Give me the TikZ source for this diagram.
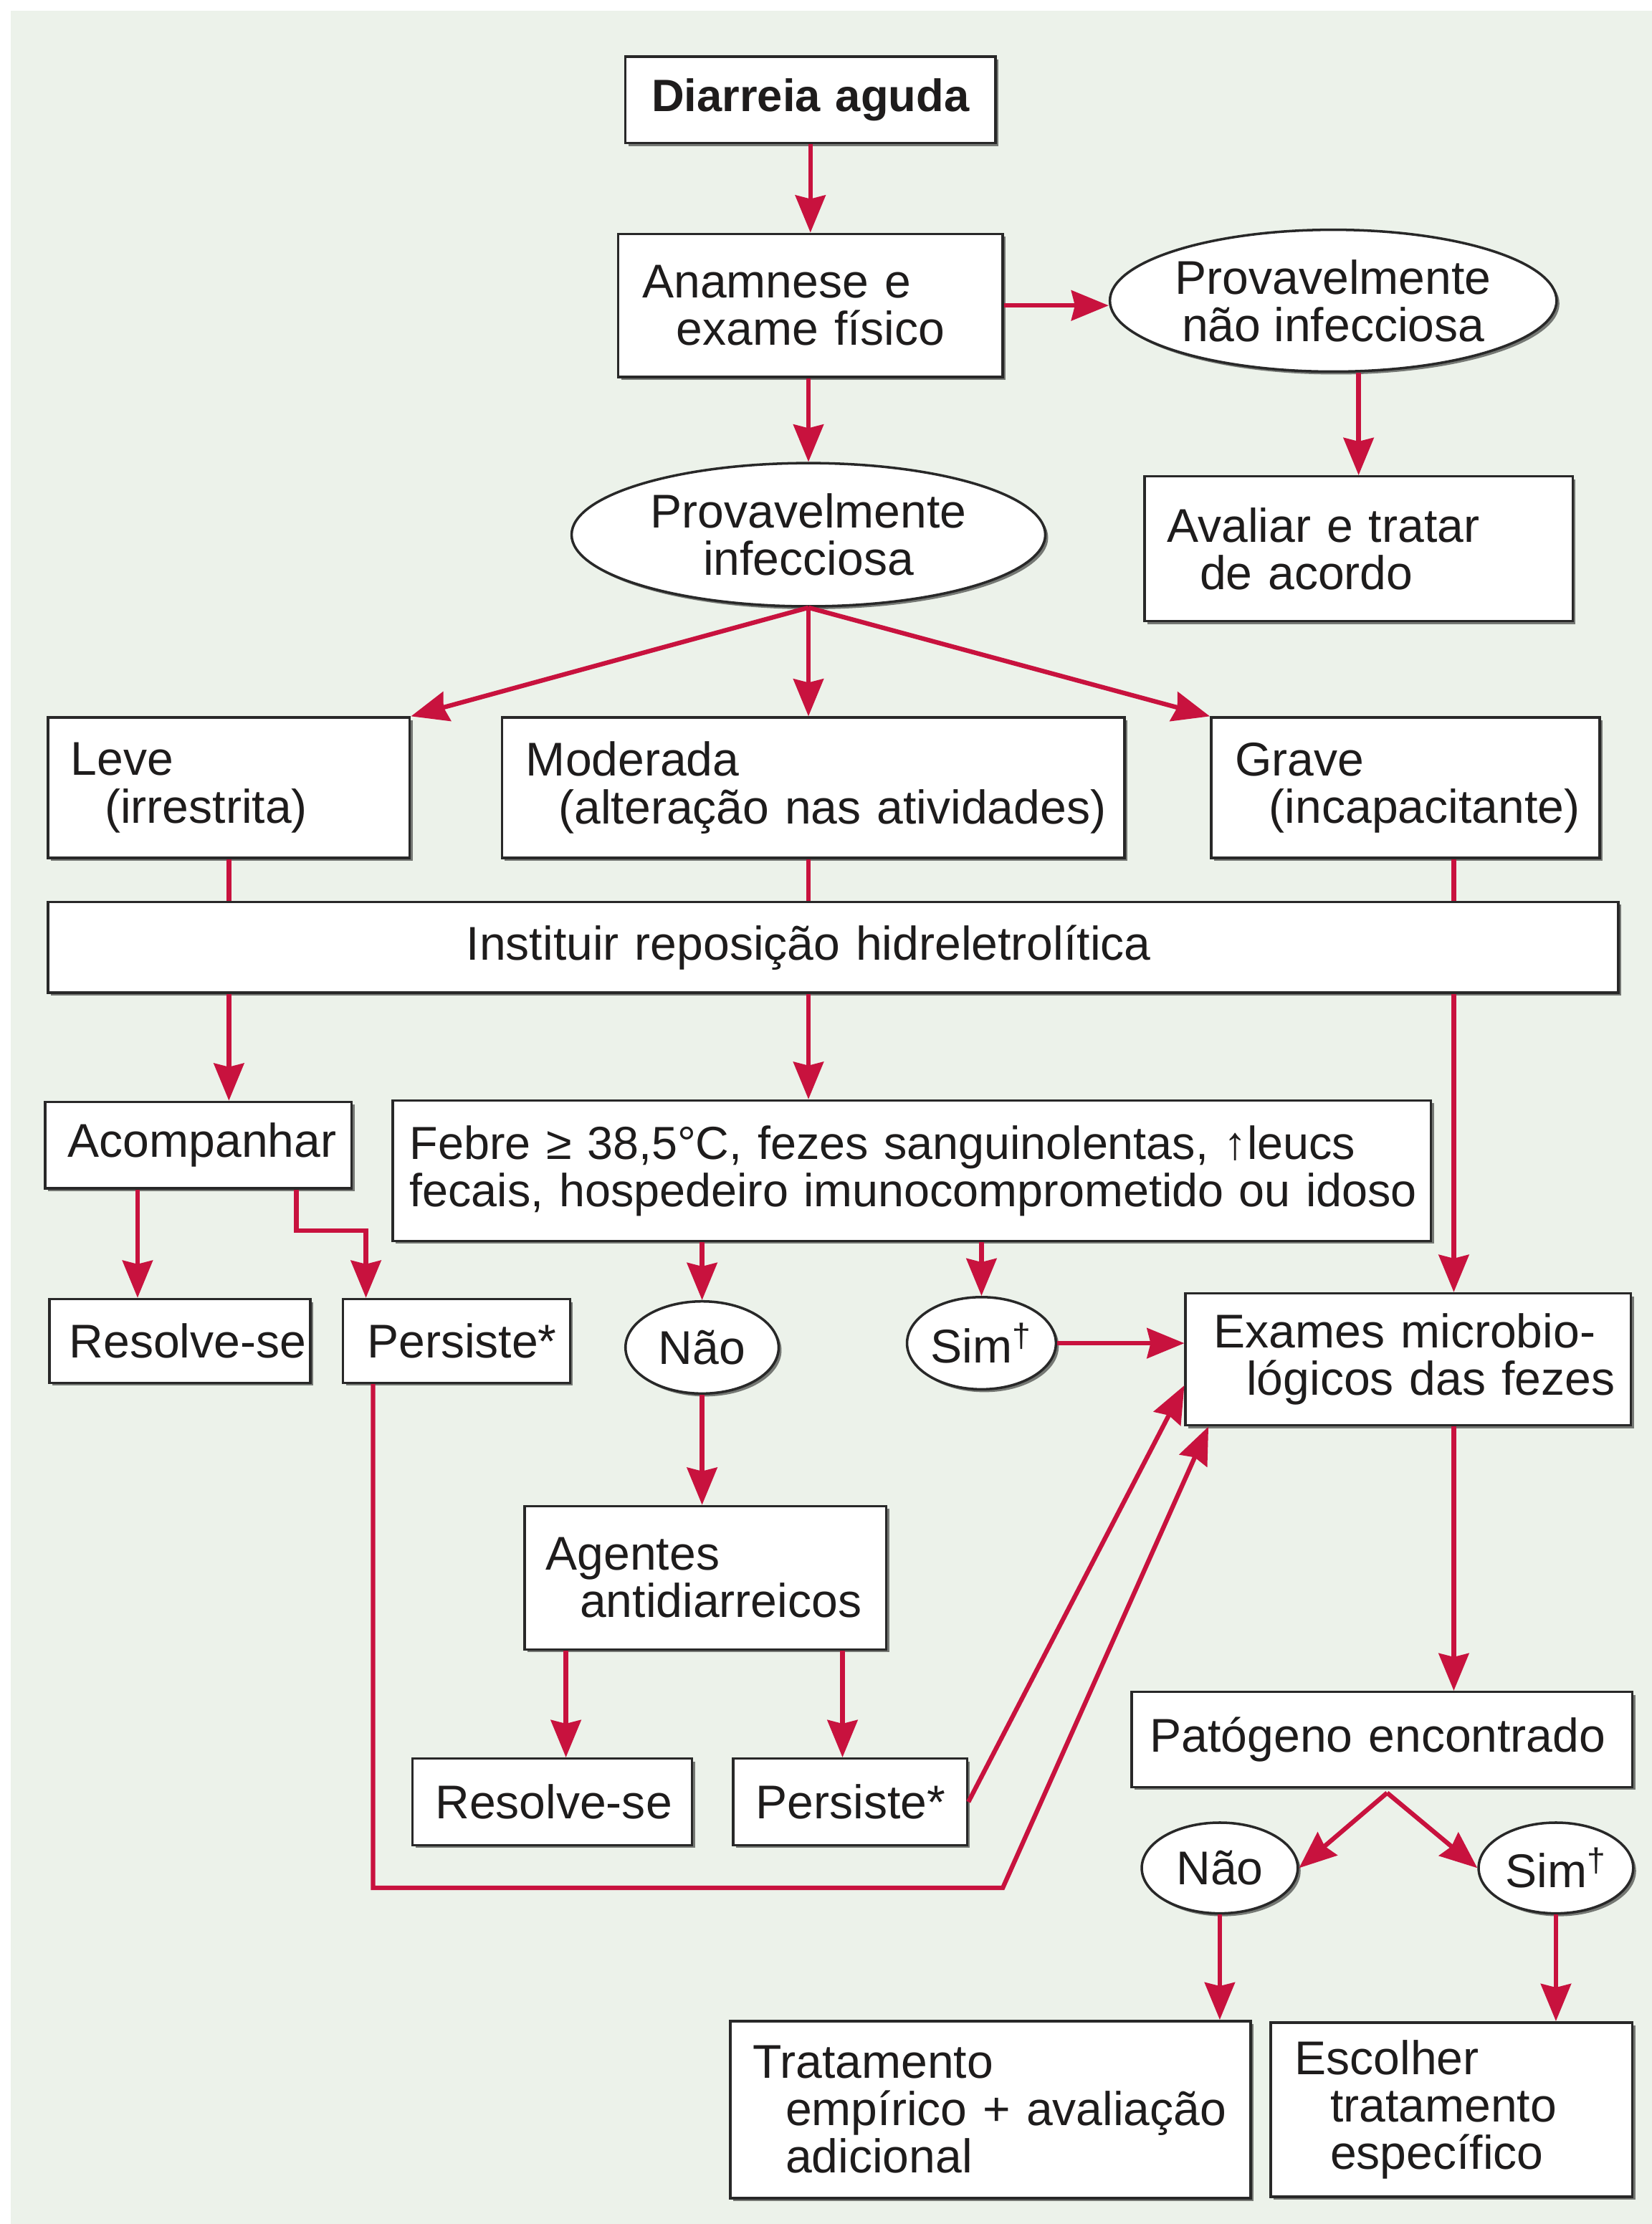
\documentclass[tikz,border=0pt]{standalone}
\usepackage{fontspec}
\setmainfont{Liberation Sans}
\usetikzlibrary{arrows.meta,shapes.geometric,shadows,calc}

\newlength{\pxu}
\setlength{\pxu}{0.1979mm}
% horizontal lead-in inside a box line
\newcommand{\lft}[1]{\hspace*{#1\pxu}}

\definecolor{flowred}{RGB}{200,18,62}
\definecolor{panel}{RGB}{236,242,234}
\definecolor{ink}{RGB}{30,28,28}
\definecolor{edge}{RGB}{40,40,40}

\tikzset{
  every node/.style={font=\fontsize{18.8}{18.8}\selectfont, text=ink},
  boxshadow/.style={drop shadow={shadow xshift=0.4mm, shadow yshift=-0.4mm, fill=black, opacity=0.5}},
  box/.style={rectangle, draw=edge, line width=1pt, fill=white, inner sep=0pt,
              anchor=north west, align=left, boxshadow},
  oval/.style={ellipse, draw=edge, line width=1pt, fill=white, inner sep=0pt,
               align=center, boxshadow},
  link/.style={draw=flowred, line width=1.8pt},
  flow/.style={link, -{Stealth[length=5.2mm, width=4.2mm, inset=0.5mm]}},
}

\begin{document}
\begin{tikzpicture}[x=0.1979mm, y=-0.1979mm]
  \useasboundingbox (0,0) rectangle (1164.7,1568);
  \fill[white] (0,0) rectangle (1164.7,1568);
  \fill[panel] (7.5,7.5) rectangle (1164.7,1568);

  % ---- nodes ----
  \node[box, minimum width=261\pxu, minimum height=61\pxu, text width=261\pxu, align=center,
        font=\bfseries\fontsize{18}{18}\selectfont] (diarreia) at (440,39) {Diarreia aguda};
  \node[box, minimum width=271\pxu, minimum height=101\pxu, text width=271\pxu] (anam) at (435,164)
        {\lft{17}Anamnese e\\\lft{41}exame físico};
  \node[oval, minimum width=300\pxu, minimum height=100\pxu] (naoinf) at (940,212)
        {Provavelmente\\não infecciosa};
  \node[box, minimum width=302\pxu, minimum height=102\pxu, text width=302\pxu] (avaliar) at (806,335)
        {\lft{16}Avaliar e tratar\\\lft{39}de acordo};
  \node[oval, minimum width=334\pxu, minimum height=101\pxu] (inf) at (570,377)
        {Provavelmente\\infecciosa};

  \node[box, minimum width=255\pxu, minimum height=99\pxu, text width=255\pxu] (leve) at (33,505)
        {\lft{16}Leve\\\lft{40}(irrestrita)};
  \node[box, minimum width=439\pxu, minimum height=99\pxu, text width=439\pxu] (mod) at (353,505)
        {\lft{17}Moderada\\\lft{40}(alteração nas atividades)};
  \node[box, minimum width=274\pxu, minimum height=99\pxu, text width=274\pxu] (grave) at (853,505)
        {\lft{17}Grave\\\lft{41}(incapacitante)};

  \node[box, minimum width=1107\pxu, minimum height=64\pxu, text width=1107\pxu] (inst) at (33,635)
        {\lft{295}Instituir reposição hidreletrolítica};

  \node[box, minimum width=216\pxu, minimum height=61\pxu, text width=216\pxu] (acomp) at (31,776)
        {\lft{16}Acompanhar};
  \node[box, minimum width=732\pxu, minimum height=99\pxu, text width=732\pxu,
        font=\fontsize{18.4}{18.8}\selectfont] (febre) at (276,775)
        {\mbox{\lft{12}Febre ≥ 38,5°C, fezes sanguinolentas, \textbf{↑}leucs}\\
         \mbox{\lft{12}fecais, hospedeiro imunocomprometido ou idoso}};

  \node[box, minimum width=184\pxu, minimum height=59\pxu, text width=184\pxu] (res1) at (34,915)
        {\lft{14}Resolve-se};
  \node[box, minimum width=160\pxu, minimum height=59\pxu, text width=160\pxu] (per1) at (241,915)
        {\lft{17}Persiste*};
  \node[oval, minimum width=108\pxu, minimum height=65\pxu] (nao1) at (495,950) {Não};
  \node[oval, minimum width=105\pxu, minimum height=65\pxu] (sim1) at (692,947) {Sim\textsuperscript{†}};
  \node[box, minimum width=314\pxu, minimum height=93\pxu, text width=314\pxu] (exames) at (835,911)
        {\lft{20}Exames microbio-\\\lft{43}lógicos das fezes};

  \node[box, minimum width=255\pxu, minimum height=101\pxu, text width=255\pxu] (agentes) at (369,1061)
        {\lft{15}Agentes\\\lft{39}antidiarreicos};
  \node[box, minimum width=197\pxu, minimum height=61\pxu, text width=197\pxu] (res2) at (290,1239)
        {\lft{16}Resolve-se};
  \node[box, minimum width=165\pxu, minimum height=61\pxu, text width=165\pxu] (per2) at (516,1239)
        {\lft{16}Persiste*};

  \node[box, minimum width=353\pxu, minimum height=67\pxu, text width=353\pxu] (pat) at (797,1192)
        {\lft{13}Patógeno encontrado};
  \node[oval, minimum width=110\pxu, minimum height=64\pxu] (nao2) at (860,1317) {Não};
  \node[oval, minimum width=109\pxu, minimum height=64\pxu] (sim2) at (1097,1317) {Sim\textsuperscript{†}};

  \node[box, minimum width=367\pxu, minimum height=125\pxu, text width=367\pxu] (trat) at (514,1424)
        {\lft{16}Tratamento\\\lft{39}empírico + avaliação\\\lft{39}adicional};
  \node[box, minimum width=255\pxu, minimum height=123\pxu, text width=255\pxu] (esc) at (895,1425)
        {\lft{17}Escolher\\\lft{42}tratamento\\\lft{42}específico};

  % ---- column guides and bend points ----
  \coordinate (rcol) at (1025,0);
  \coordinate (acl) at (97,0);
  \coordinate (acr) at (209,0);
  \coordinate (pcol) at (258,0);
  \coordinate (al) at (399,0);
  \coordinate (ar) at (594,0);
  \coordinate (pb) at (263,0);
  \coordinate (bend) at (707,1331);
  \coordinate (fork) at (978,1264);

  % ---- connectors ----
  \draw[flow] (diarreia.south) -- (anam.north);
  \draw[flow] (anam.east) -- (anam.east -| naoinf.west);
  \draw[flow] (naoinf.south -| avaliar.north) -- (avaliar.north);
  \draw[flow] (inf.north |- anam.south) -- (inf.north);

  \draw[flow] (inf.south) -- (leve.north east);
  \draw[flow] (inf.south) -- (inf.south |- mod.north);
  \draw[flow] (inf.south) -- (grave.north west);

  \draw[link] (leve.south) -- (leve.south |- inst.north);
  \draw[link] (inf.south |- mod.south) -- (inf.south |- inst.north);
  \draw[link] (rcol |- grave.south) -- (rcol |- inst.north);

  \draw[flow] (leve.south |- inst.south) -- (leve.south |- acomp.north);
  \draw[flow] (inf.south |- inst.south) -- (inf.south |- febre.north);
  \draw[flow] (rcol |- inst.south) -- (rcol |- exames.north);

  \draw[flow] (acl |- acomp.south) -- (acl |- res1.north);
  \draw[flow] (acr |- acomp.south) -- ++(0,29) -| (pcol |- per1.north);

  \draw[flow] (nao1.north |- febre.south) -- (nao1.north);
  \draw[flow] (sim1.north |- febre.south) -- (sim1.north);
  \draw[flow] (sim1.east) -- (sim1.east -| exames.west);
  \draw[flow] (nao1.south) -- (nao1.south |- agentes.north);

  \draw[flow] (al |- agentes.south) -- (al |- res2.north);
  \draw[flow] (ar |- agentes.south) -- (ar |- per2.north);

  \draw[flow] (per2.east) -- ($(exames.south west)+(0,-29)$);
  \draw[flow] (pb |- per1.south) |- (bend) -- ($(exames.south west)+(17,0)$);

  \draw[flow] (rcol |- exames.south) -- (rcol |- pat.north);
  \draw[flow] (fork) -- (nao2.east);
  \draw[flow] (fork) -- (sim2.west);
  \draw[flow] (nao2.south) -- (nao2.south |- trat.north);
  \draw[flow] (sim2.south) -- (sim2.south |- esc.north);
\end{tikzpicture}
\end{document}
